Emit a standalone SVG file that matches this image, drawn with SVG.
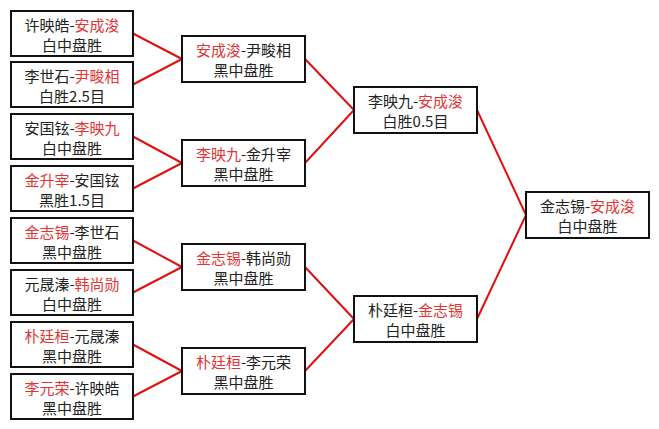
<svg xmlns="http://www.w3.org/2000/svg" width="659" height="429" viewBox="0 0 659 429">
<style>
.box{fill:#fff;stroke:#111;stroke-width:2}
.t{font-family:"Noto Sans CJK SC","Liberation Sans",sans-serif;font-size:15px;fill:#222;text-anchor:middle}
.r{fill:#e33434}
.c{stroke:#e01010;stroke-width:2;fill:none}
</style>
<rect width="659" height="429" fill="#fff"/>
<g id="connectors">
<path class="c" d="M133 33.5L182 59M133 84.5L182 59"/>
<path class="c" d="M133 136.5L182 163M133 188.5L182 163"/>
<path class="c" d="M133 240.5L182 267M133 292.5L182 267"/>
<path class="c" d="M133 344.5L182 371M133 396.5L182 371"/>
<path class="c" d="M305 59L354 110M305 163L354 110"/>
<path class="c" d="M305 267L354 319M305 371L354 319"/>
<path class="c" d="M477 110L526 215M477 319L526 215"/>
</g>
<g id="r1a"><rect class="box" x="11" y="11" width="122" height="45"/><text class="t" x="72" y="31">许映皓-<tspan class="r">安成浚</tspan></text><text class="t" x="72" y="51">白中盘胜</text></g>
<g id="r1b"><rect class="box" x="11" y="62" width="122" height="45"/><text class="t" x="72" y="82">李世石-<tspan class="r">尹畯相</tspan></text><text class="t" x="72" y="102">白胜2.5目</text></g>
<g id="r1c"><rect class="box" x="11" y="114" width="122" height="45"/><text class="t" x="72" y="134">安国铉-<tspan class="r">李映九</tspan></text><text class="t" x="72" y="154">白中盘胜</text></g>
<g id="r1d"><rect class="box" x="11" y="166" width="122" height="45"/><text class="t" x="72" y="186"><tspan class="r">金升宰</tspan>-安国铉</text><text class="t" x="72" y="206">黑胜1.5目</text></g>
<g id="r1e"><rect class="box" x="11" y="218" width="122" height="45"/><text class="t" x="72" y="238"><tspan class="r">金志锡</tspan>-李世石</text><text class="t" x="72" y="258">黑中盘胜</text></g>
<g id="r1f"><rect class="box" x="11" y="270" width="122" height="45"/><text class="t" x="72" y="290">元晟溱-<tspan class="r">韩尚勋</tspan></text><text class="t" x="72" y="310">白中盘胜</text></g>
<g id="r1g"><rect class="box" x="11" y="322" width="122" height="45"/><text class="t" x="72" y="342"><tspan class="r">朴廷桓</tspan>-元晟溱</text><text class="t" x="72" y="362">黑中盘胜</text></g>
<g id="r1h"><rect class="box" x="11" y="374" width="122" height="45"/><text class="t" x="72" y="394"><tspan class="r">李元荣</tspan>-许映皓</text><text class="t" x="72" y="414">黑中盘胜</text></g>
<g id="r2a"><rect class="box" x="182" y="36" width="123" height="46"/><text class="t" x="243.5" y="56"><tspan class="r">安成浚</tspan>-尹畯相</text><text class="t" x="243.5" y="76">黑中盘胜</text></g>
<g id="r2b"><rect class="box" x="182" y="140" width="123" height="46"/><text class="t" x="243.5" y="160"><tspan class="r">李映九</tspan>-金升宰</text><text class="t" x="243.5" y="180">黑中盘胜</text></g>
<g id="r2c"><rect class="box" x="182" y="244" width="123" height="46"/><text class="t" x="243.5" y="264"><tspan class="r">金志锡</tspan>-韩尚勋</text><text class="t" x="243.5" y="284">黑中盘胜</text></g>
<g id="r2d"><rect class="box" x="182" y="348" width="123" height="46"/><text class="t" x="243.5" y="368"><tspan class="r">朴廷桓</tspan>-李元荣</text><text class="t" x="243.5" y="388">黑中盘胜</text></g>
<g id="r3a"><rect class="box" x="354" y="87" width="123" height="46"/><text class="t" x="415.5" y="107">李映九-<tspan class="r">安成浚</tspan></text><text class="t" x="415.5" y="127">白胜0.5目</text></g>
<g id="r3b"><rect class="box" x="354" y="296" width="123" height="46"/><text class="t" x="415.5" y="316">朴廷桓-<tspan class="r">金志锡</tspan></text><text class="t" x="415.5" y="336">白中盘胜</text></g>
<g id="final"><rect class="box" x="526" y="192" width="123" height="46"/><text class="t" x="587.5" y="212">金志锡-<tspan class="r">安成浚</tspan></text><text class="t" x="587.5" y="232">白中盘胜</text></g>
</svg>
